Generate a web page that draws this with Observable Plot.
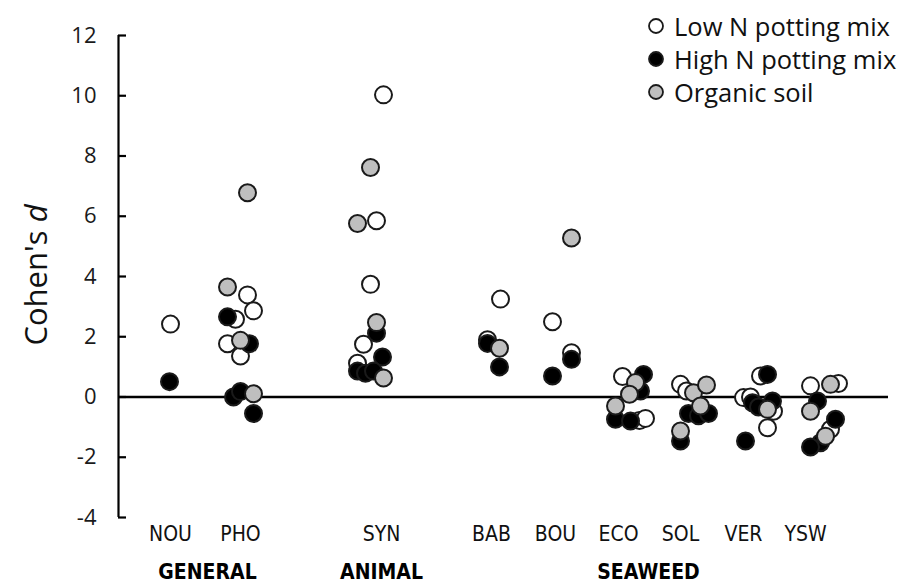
<!DOCTYPE html>
<html>
<head>
<meta charset="utf-8">
<script src="https://cdn.jsdelivr.net/npm/d3@7"></script>
<script src="https://cdn.jsdelivr.net/npm/@observablehq/plot@0.6"></script>
<style>
  html, body { margin: 0; padding: 0; background: #fff; }
  #wrap { position: relative; width: 907px; height: 583px; font-family: "Open Sans", "Noto Sans", sans-serif; }
  #legend { position: absolute; left: 647px; top: 9px; font-size: 25.5px; color: #111; }
  .row { display: flex; align-items: center; height: 33px; white-space: nowrap; }
  .row svg { margin-right: 9px; }
</style>
</head>
<body>
<div id="wrap"><div id="legend"></div></div>
<script>
// ---- data ----
const categories = ["NOU", "PHO", "SYN", "BAB", "BOU", "ECO", "SOL", "VER", "YSW"];
const categorySlot = [52, 122, 263, 373, 437, 500, 562, 625, 687];
const groups = ["GENERAL", "ANIMAL", "SEAWEED"];
const groupSlot = [89, 263, 530];
const yTicks = [-4, -2, 0, 2, 4, 6, 8, 10, 12];
const seriesNames = ["Low N potting mix", "High N potting mix", "Organic soil"];

// [category, Cohen's d, jitter]
const lowN = [
  ["NOU", 2.42, 0],
  ["PHO", 3.39, 7], ["PHO", 2.86, 13], ["PHO", 2.58, -5], ["PHO", 1.77, -13], ["PHO", 1.36, 0],
  ["SYN", 10.03, 2], ["SYN", 5.85, -5], ["SYN", 3.74, -11], ["SYN", 1.75, -18], ["SYN", 1.12, -24],
  ["BAB", 3.25, 9], ["BAB", 1.9, -4],
  ["BOU", 2.5, -3], ["BOU", 1.47, 16],
  ["ECO", 0.68, 4], ["ECO", -0.78, 21], ["ECO", -0.71, 27],
  ["SOL", 0.42, 0], ["SOL", 0.2, 6],
  ["VER", 0.70, 17], ["VER", -0.02, 0], ["VER", 0.0, 7], ["VER", -0.47, 30], ["VER", -1.02, 24],
  ["YSW", 0.37, 5], ["YSW", 0.45, 33], ["YSW", -1.07, 25]
];
const highN = [
  ["NOU", 0.51, -1],
  ["PHO", 2.66, -13], ["PHO", 1.77, 9], ["PHO", 0.0, -7], ["PHO", 0.18, 0], ["PHO", -0.55, 13],
  ["SYN", 2.12, -5], ["SYN", 1.33, 1], ["SYN", 0.86, -24], ["SYN", 0.79, -16], ["SYN", 0.86, -8],
  ["BAB", 1.78, -4], ["BAB", 1.0, 8],
  ["BOU", 0.70, -3], ["BOU", 1.25, 16],
  ["ECO", 0.75, 25], ["ECO", 0.2, 22], ["ECO", -0.74, -3], ["ECO", -0.80, 12],
  ["SOL", -0.55, 8], ["SOL", -0.62, 18], ["SOL", -0.55, 28], ["SOL", -1.46, 0],
  ["VER", 0.75, 24], ["VER", -0.19, 9], ["VER", -0.13, 29], ["VER", -0.33, 15], ["VER", -1.46, 2],
  ["YSW", -0.13, 12], ["YSW", -0.74, 30], ["YSW", -1.52, 15], ["YSW", -1.66, 5]
];
const organic = [
  ["PHO", 6.78, 7], ["PHO", 3.65, -13], ["PHO", 1.88, 0], ["PHO", 0.11, 13],
  ["SYN", 7.62, -11], ["SYN", 5.76, -24], ["SYN", 2.47, -5], ["SYN", 0.63, 2],
  ["BAB", 1.62, 8],
  ["BOU", 5.28, 16],
  ["ECO", 0.48, 17], ["ECO", 0.09, 11], ["ECO", -0.30, -3],
  ["SOL", 0.14, 13], ["SOL", 0.40, 26], ["SOL", -0.30, 20], ["SOL", -1.13, 0],
  ["VER", -0.41, 24],
  ["YSW", 0.42, 25], ["YSW", -0.47, 5], ["YSW", -1.30, 20]
];

const fills = ["#ffffff", "#000000", "#bfbfbf"];
const slotOf = Object.fromEntries(categories.map((c, i) => [c, categorySlot[i]]));
const rows = [lowN, highN, organic].flatMap((arr, s) =>
  arr.map(([cat, v, j]) => ({series: seriesNames[s], cat, value: v, x: slotOf[cat] + j}))
);

const font = "'Open Sans', 'Noto Sans', sans-serif";
const narrow = "'Liberation Sans Narrow', 'DejaVu Sans Condensed', 'Open Sans', sans-serif";

const chart = Plot.plot({
  width: 907,
  height: 583,
  marginLeft: 118,
  marginRight: 19,
  marginTop: 35,
  marginBottom: 66,
  x: {domain: [0, 770], axis: null},
  y: {domain: [-4, 12], axis: null},
  color: {domain: seriesNames, range: fills},
  style: {fontFamily: font, background: "white", overflow: "visible"},
  marks: [
    Plot.ruleX([0], {y1: -4, y2: 12, stroke: "#000", strokeWidth: 2.2}),
    Plot.ruleY(yTicks, {x1: 0, x2: 8, stroke: "#000", strokeWidth: 2.2}),
    Plot.ruleY([0], {x1: 0, x2: 770, stroke: "#000", strokeWidth: 2.4}),
    Plot.text(yTicks, {x: 0, y: d => d, dx: -22, textAnchor: "end", fontSize: 22, fill: "#1a1a1a"}),
    Plot.text(categories, {x: (d, i) => categorySlot[i], y: -4, dy: 17, fontSize: 21, fontFamily: narrow, fill: "#111"}),
    Plot.text(groups, {x: (d, i) => groupSlot[i], y: -4, dy: 55, fontSize: 21, fontWeight: "bold", fontFamily: narrow, fill: "#000"}),
    Plot.dot(rows, {x: "x", y: "value", r: 8.5, fill: "series", stroke: "#1a1a1a", strokeWidth: 2})
  ]
});

const svg = d3.select(chart);
const t = svg.append("text")
  .attr("transform", "translate(35,275) rotate(-90)")
  .attr("text-anchor", "middle")
  .attr("dominant-baseline", "central")
  .attr("font-family", font)
  .attr("font-size", 31)
  .attr("fill", "#111");
t.append("tspan").text("Cohen's ");
t.append("tspan").attr("font-style", "italic").text("d");

const wrap = document.getElementById("wrap");
wrap.insertBefore(chart, wrap.firstChild);

const legend = d3.select("#legend");
seriesNames.forEach((name, i) => {
  const row = legend.append("div").attr("class", "row");
  const s = row.append("svg").attr("width", 18).attr("height", 18);
  s.append("circle").attr("cx", 9).attr("cy", 9).attr("r", 7)
    .attr("fill", fills[i]).attr("stroke", "#1a1a1a").attr("stroke-width", 1.8);
  row.append("span").text(name);
});
</script>
</body>
</html>
